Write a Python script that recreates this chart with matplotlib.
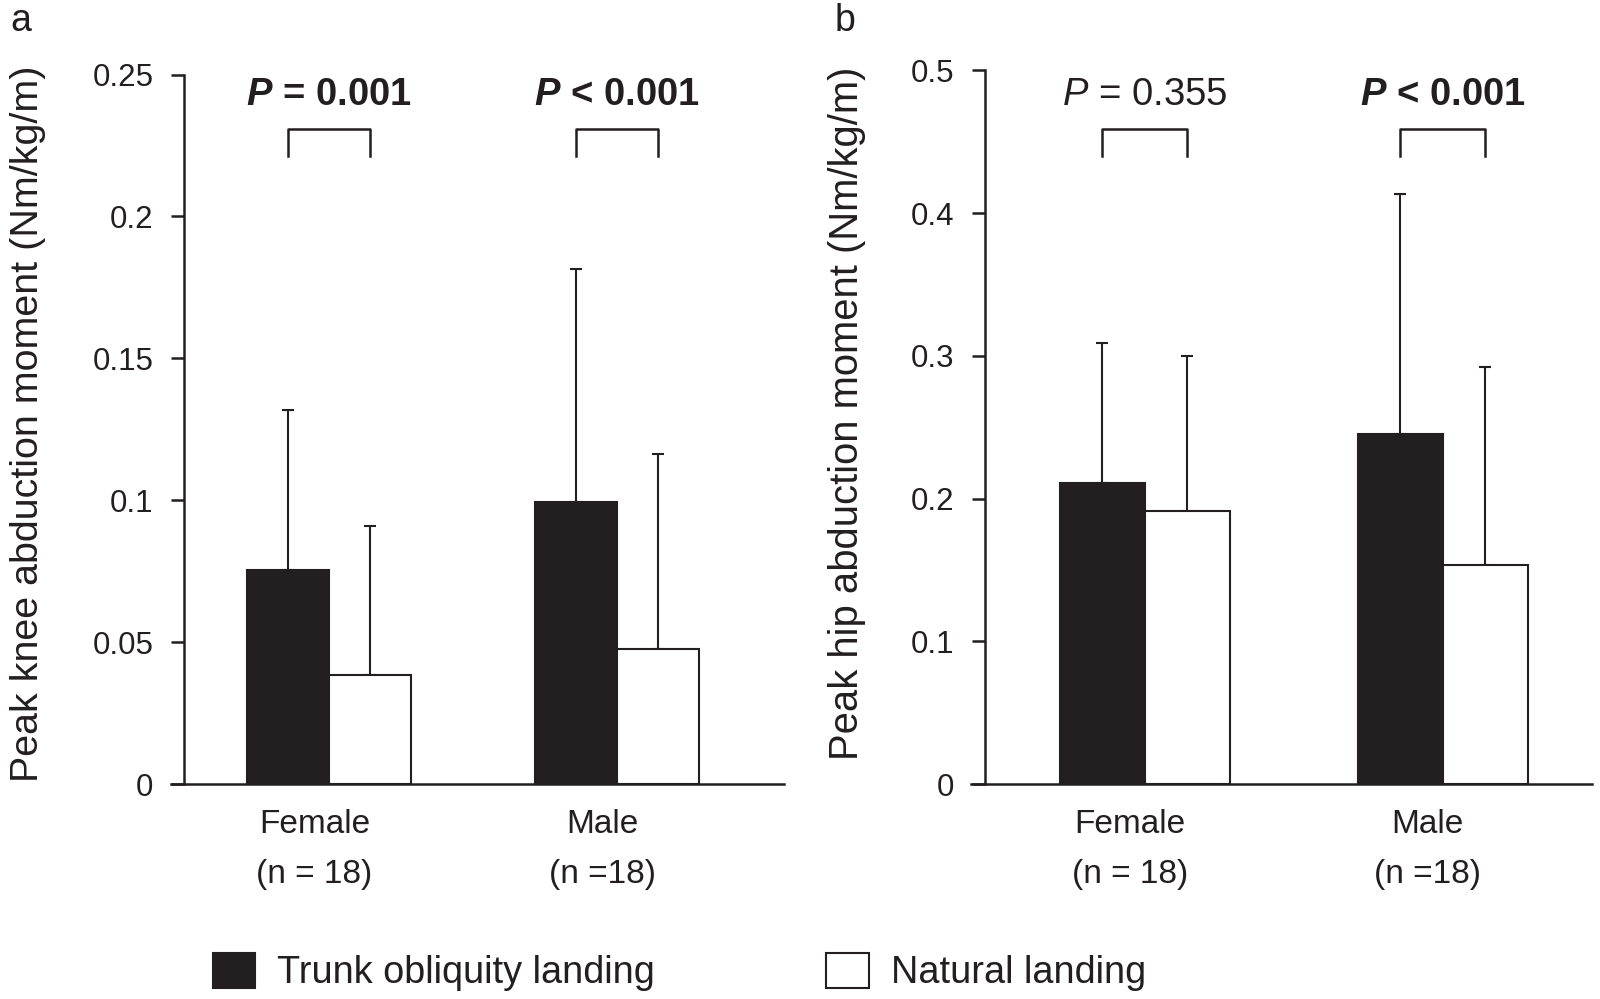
import numpy as np
from matplotlib import pyplot as plt
from matplotlib.patches import Patch
import matplotlib.transforms as mtransforms

plt.rcParams['font.family'] = ['Liberation Sans', 'DejaVu Sans']
plt.rcParams['mathtext.fontset'] = 'custom'
plt.rcParams['mathtext.it'] = 'Liberation Sans:italic'
plt.rcParams['mathtext.bf'] = 'Liberation Sans:italic:bold'
plt.rcParams['mathtext.rm'] = 'Liberation Sans'

DARK = '#231f20'

groups = ['Female', 'Male']
group_n = ['(n = 18)', '(n =18)']
series = ['Trunk obliquity landing', 'Natural landing']

# panel a: peak knee abduction moment
knee_trunk = [0.0755, 0.0993]
knee_trunk_sd = [0.0562, 0.0820]
knee_natural = [0.0384, 0.0475]
knee_natural_sd = [0.0526, 0.0687]
knee_p = [(' = 0.001', True), (' < 0.001', True)]
knee_ticks = [0, 0.05, 0.1, 0.15, 0.2, 0.25]
knee_ticklabels = ['0', '0.05', '0.1', '0.15', '0.2', '0.25']

# panel b: peak hip abduction moment
hip_trunk = [0.211, 0.2456]
hip_trunk_sd = [0.098, 0.168]
hip_natural = [0.191, 0.1533]
hip_natural_sd = [0.109, 0.139]
hip_p = [(' = 0.355', False), (' < 0.001', True)]
hip_ticks = [0, 0.1, 0.2, 0.3, 0.4, 0.5]
hip_ticklabels = ['0', '0.1', '0.2', '0.3', '0.4', '0.5']

W = 0.285


def panel(ax, trunk, trunk_sd, natural, natural_sd, pvals, ticks, ticklabels,
          ylim, xlim, brk, ptxt_y):
    x = np.arange(len(groups))
    ax.bar(x - W / 2, trunk, W, color=DARK, edgecolor=DARK, linewidth=1.5, zorder=2)
    ax.bar(x + W / 2, natural, W, color='white', edgecolor=DARK, linewidth=1.5, zorder=2)
    ax.errorbar(x - W / 2, trunk, yerr=[np.zeros(len(x)), trunk_sd], fmt='none',
                ecolor=DARK, elinewidth=1.5, capsize=4.4, capthick=1.5, zorder=1)
    ax.errorbar(x + W / 2, natural, yerr=[np.zeros(len(x)), natural_sd], fmt='none',
                ecolor=DARK, elinewidth=1.5, capsize=4.4, capthick=1.5, zorder=1)
    ax.set_ylim(*ylim)
    ax.set_xlim(*xlim)
    ax.set_yticks(ticks)
    ax.set_yticklabels(ticklabels)
    ax.set_xticks([])
    for s in ['top', 'right']:
        ax.spines[s].set_visible(False)
    for s in ['left', 'bottom']:
        ax.spines[s].set_linewidth(1.8)
        ax.spines[s].set_color(DARK)
    ax.spines['bottom'].set_bounds(xlim[0] - 0.045, xlim[1])
    ax.tick_params(axis='y', length=9.4, width=1.8, color=DARK, labelsize=22.5,
                   labelcolor=DARK, pad=12.5)
    tr = mtransforms.blended_transform_factory(ax.transData, ax.transAxes)
    for i in range(len(groups)):
        ax.plot([x[i] - W / 2, x[i] - W / 2, x[i] + W / 2, x[i] + W / 2],
                [brk[0], brk[1], brk[1], brk[0]], color=DARK, lw=1.8,
                transform=tr, clip_on=False)
        rest, bold = pvals[i]
        sym = r'$\mathbf{P}$' if bold else r'$\mathit{P}$'
        ax.text(x[i], ptxt_y, sym + rest, transform=tr, ha='center', va='center',
                fontsize=27.5, color=DARK, fontweight='bold' if bold else 'normal')
        ax.annotate(groups[i], xy=(x[i] - 0.05, 0), xycoords=tr,
                    xytext=(0, -29), textcoords='offset points',
                    ha='center', va='center', fontsize=24, color=DARK)
        ax.annotate(group_n[i], xy=(x[i] - 0.05, 0), xycoords=tr,
                    xytext=(0, -65), textcoords='offset points',
                    ha='center', va='center', fontsize=24, color=DARK)


fig = plt.figure(figsize=(16, 9.99), dpi=100)
ax1 = fig.add_axes([0.115, 0.2152, 0.375, 0.7102])
ax2 = fig.add_axes([0.6154, 0.2152, 0.3794, 0.7143])

panel(ax1, knee_trunk, knee_trunk_sd, knee_natural, knee_natural_sd, knee_p,
      knee_ticks, knee_ticklabels, (0, 0.25), (-0.503, 1.58),
      (0.885, 0.923), 0.971)
panel(ax2, hip_trunk, hip_trunk_sd, hip_natural, hip_natural_sd, hip_p,
      hip_ticks, hip_ticklabels, (0, 0.5), (-0.538, 1.50),
      (0.880, 0.918), 0.966)

fig.text(28 / 1600, 1 - 424 / 999, 'Peak knee abduction moment (Nm/kg/m)',
         rotation=90, ha='center', va='center', fontsize=28.4, color=DARK)
fig.text(847 / 1600, 1 - 413 / 999, 'Peak hip abduction moment (Nm/kg/m)',
         rotation=90, ha='center', va='center', fontsize=28.8, color=DARK)

fig.text(10 / 1600, 1 - 21 / 999, 'a', ha='left', va='center', fontsize=27, color=DARK)
fig.text(835 / 1600, 1 - 21 / 999, 'b', ha='left', va='center', fontsize=27, color=DARK)

handles = [Patch(facecolor=DARK, edgecolor=DARK, linewidth=1.5),
           Patch(facecolor='white', edgecolor=DARK, linewidth=1.5)]
fig.legend(handles, series, loc='lower left', bbox_to_anchor=(205 / 1600, 0.0),
           ncol=2, frameon=False, fontsize=27.3, handlelength=1.13, handleheight=1.08,
           handletextpad=0.58, columnspacing=4.5, borderpad=0.2, borderaxespad=0,
           labelcolor=DARK)

fig.savefig('out.png', dpi=100)
